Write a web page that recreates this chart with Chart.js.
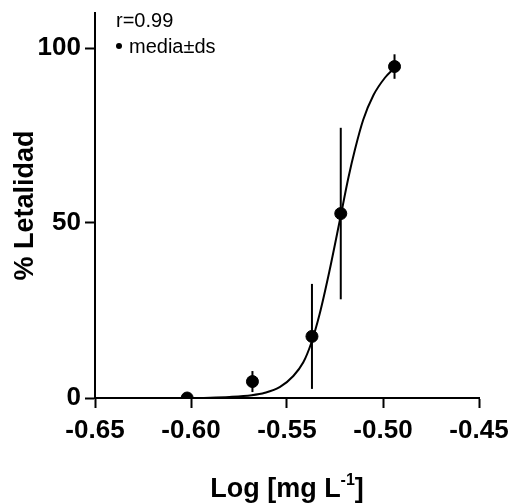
<!DOCTYPE html>
<html>
<head>
<meta charset="utf-8">
<script src="https://cdn.jsdelivr.net/npm/chart.js@4"></script>
<style>
  html, body { margin: 0; padding: 0; background: #fff; }
  #wrap { width: 509px; height: 504px; }
</style>
</head>
<body>
<div id="wrap"><canvas id="myChart" width="509" height="504"></canvas></div>
<script>
// tick labels
const xTicks = [-0.65, -0.60, -0.55, -0.50, -0.45];
const yTicks = [0, 50, 100];

// observed means and standard deviations
const logDose = [-0.602, -0.568, -0.537, -0.522, -0.494];
const lethality = [0, 4.7, 17.6, 52.7, 94.7];
const sdev = [0, 3, 15, 24.5, 3.5];

// fitted curve
const fitX = [-0.602, -0.590, -0.580, -0.5684, -0.5615, -0.5536, -0.5467, -0.5415, -0.5375, -0.5330, -0.5280, -0.5224, -0.5180, -0.5146, -0.5103, -0.5050, -0.4990, -0.4946];
const fitY = [0, 0.1, 0.3, 0.8, 1.5, 3.2, 6.3, 10.2, 15.5, 24, 36, 51, 63, 71, 79.5, 86.5, 91.5, 94];

const FONT = 'Arial, "Liberation Sans", sans-serif';

document.addEventListener("DOMContentLoaded", function() {
    const ctx = document.getElementById('myChart').getContext('2d');

    // vertical error bars, no caps
    const errorBars = {
        id: 'errorBars',
        beforeDatasetsDraw(chart) {
            const c = chart.ctx, xs = chart.scales.x, ys = chart.scales.y;
            c.save();
            c.strokeStyle = '#000';
            c.lineWidth = 2;
            logDose.forEach(function(x, i) {
                if (!sdev[i]) return;
                const px = xs.getPixelForValue(x);
                c.beginPath();
                c.moveTo(px, ys.getPixelForValue(lethality[i] + sdev[i]));
                c.lineTo(px, ys.getPixelForValue(lethality[i] - sdev[i]));
                c.stroke();
            });
            c.restore();
        }
    };

    // legend text and x title with superscript
    const annotations = {
        id: 'annotations',
        afterDraw(chart) {
            const c = chart.ctx;
            c.save();
            c.fillStyle = '#000';
            c.textBaseline = 'alphabetic';
            c.textAlign = 'left';
            c.font = '20px ' + FONT;
            c.fillText('r=0.99', 116, 27);
            c.beginPath();
            c.arc(119, 46, 3, 0, Math.PI * 2);
            c.fill();
            c.fillText('media\u00b1ds', 129, 53);

            // x axis title
            const main1 = 'Log [mg L', sup = '-1', main2 = ']';
            c.font = 'bold 27px ' + FONT;
            const w1 = c.measureText(main1).width;
            const w3 = c.measureText(main2).width;
            c.font = 'bold 16px ' + FONT;
            const w2 = c.measureText(sup).width;
            const total = w1 + w2 + w3;
            const cx = (chart.chartArea.left + chart.chartArea.right) / 2;
            const x0 = cx - total / 2;
            const base = 497;
            c.font = 'bold 27px ' + FONT;
            c.fillText(main1, x0, base);
            c.font = 'bold 16px ' + FONT;
            c.fillText(sup, x0 + w1, base - 12);
            c.font = 'bold 27px ' + FONT;
            c.fillText(main2, x0 + w1 + w2, base);
            c.restore();
        }
    };

    const myChart = new Chart(ctx, {
        data: {
            datasets: [{
                type: 'line',
                label: 'ajuste',
                data: fitX.map((x, i) => ({x: x, y: fitY[i]})),
                borderColor: '#000',
                borderWidth: 2,
                pointRadius: 0,
                cubicInterpolationMode: 'monotone',
                fill: false
            }, {
                type: 'scatter',
                label: 'media\u00b1ds',
                data: logDose.map((x, i) => ({x: x, y: lethality[i]})),
                backgroundColor: '#000',
                borderColor: '#000',
                pointRadius: 6,
                pointHoverRadius: 6
            }]
        },
        options: {
            responsive: false,
            animation: false,
            layout: {
                padding: { top: 13, right: 30, left: 0, bottom: 0 }
            },
            scales: {
                x: {
                    type: 'linear',
                    min: -0.65,
                    max: -0.45,
                    afterBuildTicks: function(scale) {
                        scale.ticks = xTicks.map(v => ({value: v}));
                    },
                    afterFit: function(scale) {
                        scale.height = 106;
                        scale.paddingLeft = 0;
                        scale.paddingRight = 0;
                    },
                    grid: {
                        drawOnChartArea: false,
                        drawTicks: true,
                        tickLength: 10,
                        tickWidth: 2,
                        color: '#000'
                    },
                    border: { display: true, color: '#000', width: 2 },
                    ticks: {
                        color: '#000',
                        padding: 7,
                        maxRotation: 0,
                        font: { family: FONT, size: 26, weight: 'bold' },
                        callback: v => v.toFixed(2)
                    }
                },
                y: {
                    type: 'linear',
                    min: 0,
                    max: 110,
                    afterBuildTicks: function(scale) {
                        scale.ticks = yTicks.map(v => ({value: v}));
                    },
                    afterFit: function(scale) {
                        scale.width = 95;
                        scale.paddingTop = 0;
                        scale.paddingBottom = 0;
                    },
                    grid: {
                        drawOnChartArea: false,
                        drawTicks: true,
                        tickLength: 10,
                        tickWidth: 2,
                        color: '#000'
                    },
                    border: { display: true, color: '#000', width: 2 },
                    ticks: {
                        color: '#000',
                        padding: 4,
                        font: { family: FONT, size: 26, weight: 'bold' }
                    },
                    title: {
                        display: true,
                        text: '% Letalidad',
                        color: '#000',
                        padding: { top: 9, bottom: 0 },
                        font: { family: FONT, size: 27, weight: 'bold' }
                    }
                }
            },
            plugins: {
                legend: { display: false },
                tooltip: { enabled: false }
            }
        },
        plugins: [errorBars, annotations]
    });
});
</script>
</body>
</html>
